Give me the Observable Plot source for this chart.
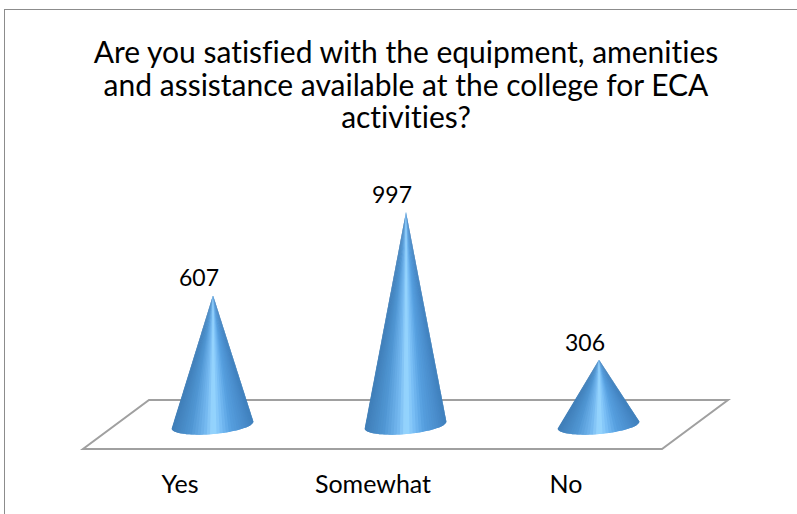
<!DOCTYPE html>
<html>
<head>
<meta charset="utf-8">
<script src="https://cdn.jsdelivr.net/npm/d3@7"></script>
<script src="https://cdn.jsdelivr.net/npm/@observablehq/plot@0.6"></script>
<style>
html,body{margin:0;padding:0;background:#fff;overflow:hidden}
#page{position:relative;width:797px;height:514px;overflow:hidden;font-family:Lato,sans-serif;color:#000;font-variant-ligatures:none}
#border{position:absolute;left:4px;top:9px;width:900px;height:700px;border:1px solid #8c8c8c;box-sizing:border-box}
#title{position:absolute;left:0;top:35px;width:812px;text-align:center;font-size:30px;line-height:32.5px;white-space:nowrap}
#chart{position:absolute;left:0;top:135px}
svg{display:block;overflow:visible}
</style>
</head>
<body>
<div id="page">
  <div id="border"></div>
  <div id="title"></div>
  <div id="chart"></div>
</div>
<script>
const titleLines = [
  "Are you satisfied with the equipment, amenities",
  "and assistance available at the college for ECA",
  "activities?"
];
const categories = ["Yes", "Somewhat", "No"];
const responses = [607, 997, 306];

const rows = categories.map((category, i) => ({category, value: responses[i]}));
document.getElementById("title").innerHTML = titleLines.join("<br>");

const shade = d3.scaleLinear()
  .domain([0, 0.1, 0.28, 0.4, 0.5, 0.6, 0.78, 1])
  .range(["#3f80bc", "#488bca", "#569fdf", "#78bdf5", "#9ad8ff", "#74b8f0", "#5096d3", "#3f7eb8"]);

const ns = "http://www.w3.org/2000/svg";

function floor(index, {x, y}) {
  const [x0, x1] = x.range();
  const base = y(0);
  const g = document.createElementNS(ns, "g");
  const p = document.createElementNS(ns, "path");
  p.setAttribute("d", `M${x0 - 33},${base + 24}L${x1 - 33},${base + 24}L${x1 + 33},${base - 25}L${x0 + 33},${base - 25}Z`);
  p.setAttribute("fill", "#fff");
  p.setAttribute("stroke", "#a0a0a0");
  p.setAttribute("stroke-width", 2);
  g.appendChild(p);
  return g;
}

function cones(index, {x, y}) {
  const g = document.createElementNS(ns, "g");
  const rx = 41, ry = 9, a = -5 * Math.PI / 180, n = 40;
  for (const i of index) {
    const cx = x(rows[i].category) + x.bandwidth() / 2;
    const cy = y(0);
    const ax = cx + 0.5, ay = y(rows[i].value);
    const pt = t => [
      cx + rx * Math.cos(t) * Math.cos(a) - ry * Math.sin(t) * Math.sin(a),
      cy + rx * Math.cos(t) * Math.sin(a) + ry * Math.sin(t) * Math.cos(a)
    ];
    for (let k = 0; k < n; k++) {
      const at = j => Math.PI - Math.PI * Math.min(j, n) / n;
      const f = (1 - Math.cos((at(k) + at(k + 1)) / 2)) / 2;
      const s = document.createElementNS(ns, "path");
      s.setAttribute("d", `M${ax},${ay}L${pt(at(k))}L${pt(at(k + 1))}L${pt(at(k + 2))}Z`);
      s.setAttribute("fill", shade(f));
      g.appendChild(s);
    }
  }
  return g;
}

const chart = Plot.plot({
  width: 797,
  height: 379,
  marginTop: 77,
  marginBottom: 89,
  marginLeft: 116,
  marginRight: 102,
  style: {fontFamily: "Lato, sans-serif", background: "transparent", fontVariantLigatures: "none"},
  x: {domain: categories, padding: 0, label: null},
  y: {domain: [0, 997], axis: null, label: null},
  marks: [
    Plot.barY(rows, {x: "category", y: "value", render: (i, s) => floor(i, s)}),
    Plot.barY(rows, {x: "category", y: "value", render: (i, s) => cones(i, s)}),
    Plot.text(rows, {x: "category", y: "value", text: d => String(d.value), dx: -14, dy: -17, fontSize: 23, fill: "#000"}),
    Plot.axisX({tickSize: 0, dx: -33, tickPadding: 50, fontSize: 25, color: "#000", label: null})
  ]
});
document.getElementById("chart").appendChild(chart);
</script>
</body>
</html>
